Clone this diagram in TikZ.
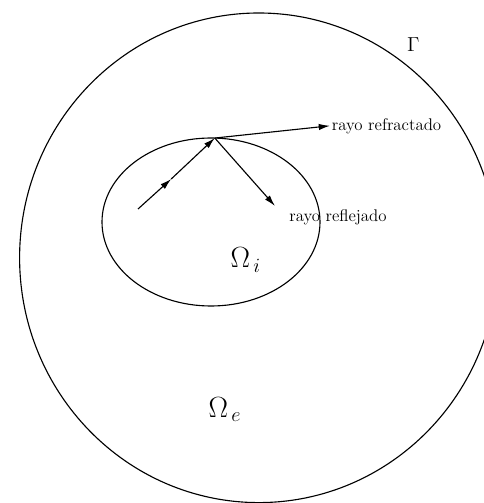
\documentclass[tikz,border=0pt]{standalone}
\usetikzlibrary{arrows.meta}
\begin{document}
\begin{tikzpicture}[>={Latex[length=8pt,width=4.5pt]}, thick]
		\useasboundingbox (0,0) rectangle (12.1,12.575);
		
		% Boundary Gamma and inner region
		\draw (6.47,6.13) ellipse [x radius=5.98, y radius=6.12];
		\draw (5.275,7.025) ellipse [x radius=2.725, y radius=2.1];
		
		% Labels of the regions
		\node (gamma) at (10.33,11.45) {\Large $\Gamma$};
		\node[anchor=base west, inner sep=0pt] (omi) at (5.75,5.875) {\huge $\Omega_{\,i}$};
		\node[anchor=base west, inner sep=0pt] (ome) at (5.2,2.15) {\huge $\Omega_{\,e}$};
		
		% Incident ray and hit point
		\coordinate (src) at (3.45,7.35);
		\coordinate (mid) at (4.28,8.1);
		\coordinate (hit) at (5.37,9.124);
		\draw[->] (src) -- (mid);
		\draw[->] (mid) -- (hit);
		
		% Refracted and reflected rays
		\node[right, inner sep=1pt] (refr) at (8.25,9.43) {\large rayo refractado};
		\node[inner sep=0pt] (refl) at (8.45,7.15) {\large rayo reflejado};
		\coordinate (reflend) at (6.875,7.425);
		\draw[->] (hit) -- (refr.west);
		\draw[->] (hit) -- (reflend);
	\end{tikzpicture}
\end{document}
